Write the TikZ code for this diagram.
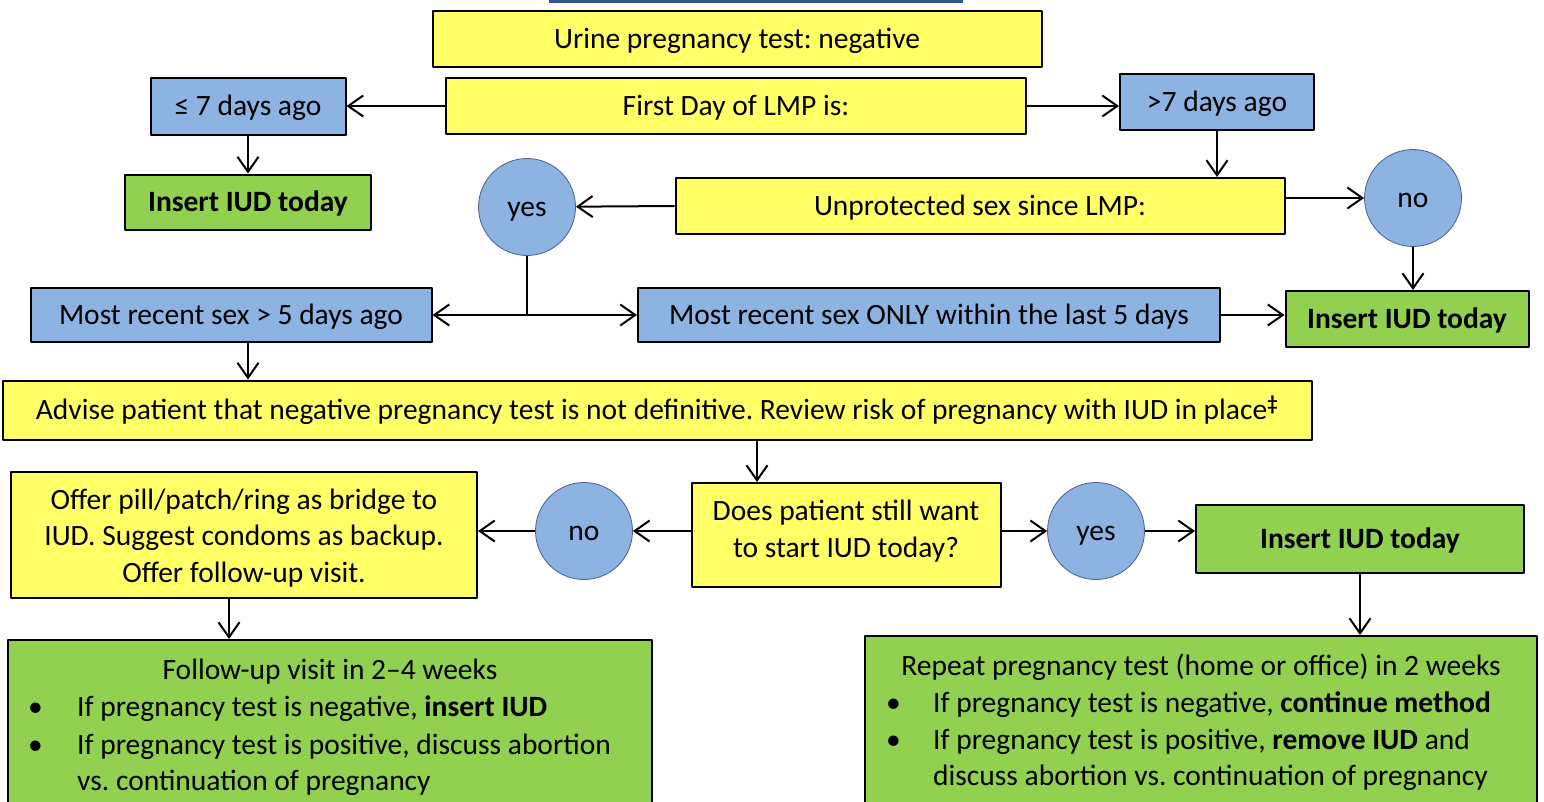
\documentclass[tikz,border=0pt]{standalone}
\usepackage{fontspec}
\setmainfont{Carlito}
\usetikzlibrary{arrows.meta}
\definecolor{yel}{HTML}{FFFF66}
\definecolor{blu}{HTML}{8DB3E2}
\definecolor{grn}{HTML}{92D050}
\definecolor{rim}{HTML}{4A6186}
\definecolor{bar}{HTML}{2F5597}
\frenchspacing
\begin{document}
\begin{tikzpicture}[x=1pt, y=-1pt, font=\fontsize{29.5}{36.5}\selectfont, line join=round, >={Straight Barb[length=15pt, width=21pt]},
	box/.style={draw, line width=2pt, inner sep=0pt, align=center},
	one/.style={text height=22pt, text depth=3pt},
	ybox/.style={box, fill=yel},
	bbox/.style={box, fill=blu, one},
	gbox/.style={box, fill=grn, one, font=\fontsize{29.5}{36.5}\selectfont\bfseries},
	circ/.style={circle, draw=rim, line width=0.8pt, fill=blu, minimum size=97pt, inner sep=0pt, one},
	arr/.style={->, line width=2pt},
	txt/.style={anchor=base west, inner sep=0pt}]
				\useasboundingbox (0,0) rectangle (1544,801);
				\fill[bar] (549,0) rectangle (963,3);
				\node[ybox, one, minimum width=609pt, minimum height=56pt] (urine) at (737,39) {Urine pregnancy test: negative};
				\node[ybox, one, minimum width=580pt, minimum height=56pt] (lmp) at (736,106) {First Day of LMP is:};
				\node[bbox, minimum width=195pt, minimum height=57pt] (le7) at (248,106) {≤ 7 days ago};
				\node[bbox, minimum width=194pt, minimum height=56pt] (gt7) at (1217,102) {>7 days ago};
				\node[gbox, minimum width=246pt, minimum height=55pt] (ins1) at (248,202) {Insert IUD today};
				\node[circ] (yes1) at (527,207) {yes};
				\node[ybox, one, minimum width=609pt, minimum height=56pt] (unprot) at (980,206) {Unprotected sex since LMP:};
				\node[circ] (no1) at (1413,198) {no};
				\node[bbox, minimum width=401pt, minimum height=54pt] (gt5) at (231,315) {Most recent sex > 5 days ago};
				\node[bbox, minimum width=582pt, minimum height=54pt] (only5) at (929,315) {Most recent sex ONLY within the last 5 days};
				\node[gbox, minimum width=243pt, minimum height=56pt] (ins2) at (1407,319) {Insert IUD today};
				\node[ybox, one, minimum width=1309pt, minimum height=59pt] (advise) at (657,410) {Advise patient that negative pregnancy test is not definitive. Review risk of pregnancy with IUD in place\textsuperscript{\bfseries ‡}};
				\node[ybox, text height=47pt, text depth=3pt, minimum width=309pt, minimum height=104pt] (ask) at (846,535) {Does patient still want\\to start IUD today?};
				\node[circ] (no2) at (584,531) {no};
				\node[circ] (yes2) at (1096,531) {yes};
				\node[ybox, text height=97pt, text depth=3pt, minimum width=466pt, minimum height=126pt] (offer) at (244,535) {Offer pill/patch/ring as bridge to\\IUD. Suggest condoms as backup.\\Offer follow-up visit.};
				\node[gbox, minimum width=328pt, minimum height=68pt] (ins3) at (1360,539) {Insert IUD today};
				\node[box, fill=grn, minimum width=644pt, minimum height=180pt] (follow) at (330,730) {};
				\node[box, fill=grn, minimum width=672pt, minimum height=184pt] (repeat) at (1201,728) {};
				\node[anchor=base, inner sep=0pt] (fTitle) at (330,679) {Follow-up visit in 2–4 weeks};
				\node[txt] (fDot1) at (28,716) {•};
				\node[txt] (fLine1) at (77,716) {If pregnancy test is negative, \textbf{insert IUD}};
				\node[txt] (fDot2) at (28,754) {•};
				\node[txt] (fLine2) at (77,754) {If pregnancy test is positive, discuss abortion};
				\node[txt] (fLine3) at (77,790) {vs. continuation of pregnancy};
				\node[anchor=base, inner sep=0pt] (rTitle) at (1201,675) {Repeat pregnancy test (home or office) in 2 weeks};
				\node[txt] (rDot1) at (886,712) {•};
				\node[txt] (rLine1) at (933,712) {If pregnancy test is negative, \textbf{continue method}};
				\node[txt] (rDot2) at (886,749) {•};
				\node[txt] (rLine2) at (933,749) {If pregnancy test is positive, \textbf{remove IUD} and};
				\node[txt] (rLine3) at (933,785) {discuss abortion vs. continuation of pregnancy};
				\coordinate (split) at (yes1.south |- gt5.east);
				\coordinate (g5out) at ([xshift=17pt]gt5.south);
				\coordinate (advout) at ([xshift=100pt]advise.south);
				\coordinate (offout) at ([xshift=-15pt]offer.south);
				\draw[arr] (lmp.west) -- (le7.east);
				\draw[arr] (lmp.east) -- (lmp.east -| gt7.west);
				\draw[arr] (le7.south) -- (ins1.north);
				\draw[arr] (gt7.south) -- (gt7.south |- unprot.north);
				\draw[arr] (unprot.west) -- (yes1);
				\draw[arr] (unprot.east |- no1) -- (no1);
				\draw[arr] (no1) -- (no1 |- ins2.north);
				\draw[line width=2pt] (yes1.south) -- (split);
				\draw[arr] (split) -- (gt5.east);
				\draw[arr] (split) -- (split -| only5.west);
				\draw[arr] (only5.east) -- (only5.east -| ins2.west);
				\draw[arr] (g5out) -- (g5out |- advise.north);
				\draw[arr] (advout) -- (advout |- ask.north);
				\draw[arr] (ask.west |- no2) -- (no2);
				\draw[arr] (no2) -- (no2 -| offer.east);
				\draw[arr] (ask.east |- yes2) -- (yes2);
				\draw[arr] (yes2) -- (yes2 -| ins3.west);
				\draw[arr] (offout) -- (offout |- follow.north);
				\draw[arr] (ins3.south) -- (ins3.south |- repeat.north);
\end{tikzpicture}
\end{document}
